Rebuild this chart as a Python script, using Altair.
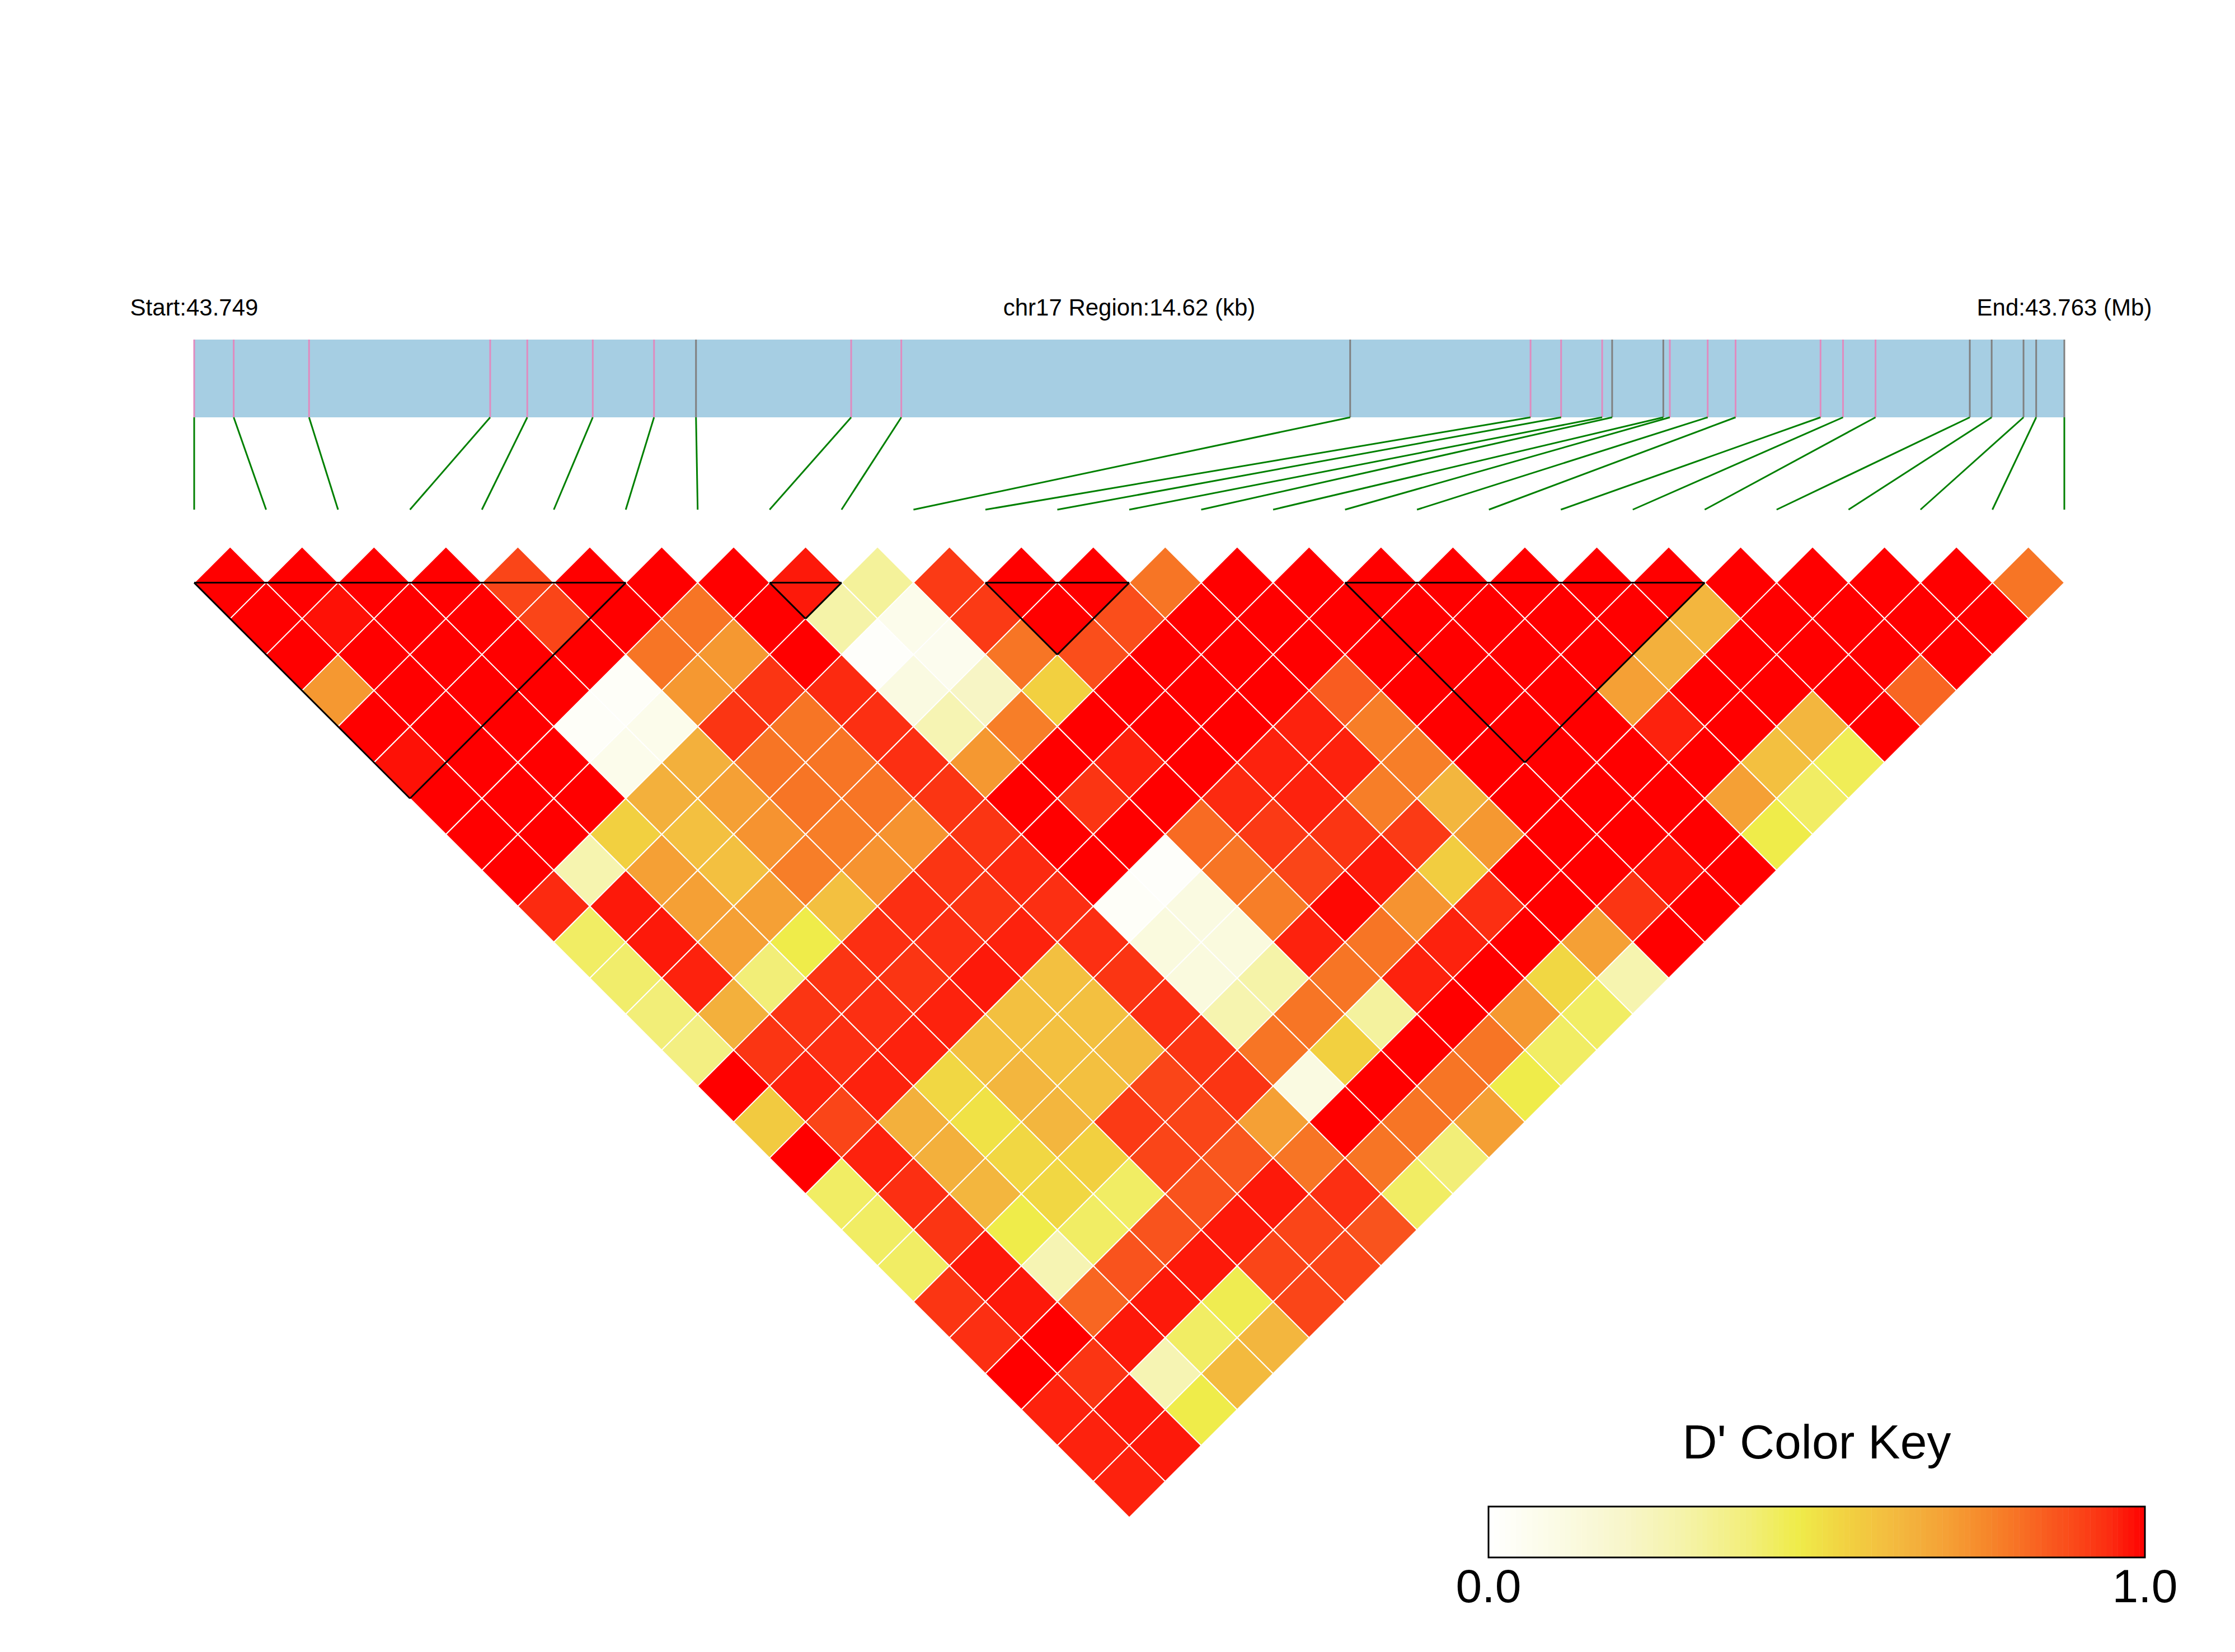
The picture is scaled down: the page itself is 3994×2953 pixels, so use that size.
import altair as alt
import pandas as pd

# ---------------- data ----------------
chromosome = "chr17"
region_start_bp = 43748800
region_length_bp = 14620
snp_offsets_bp = [0, 309, 898, 2314, 2604, 3116, 3595, 3923, 5136, 5528,
                  9037, 10447, 10686, 11007, 11085, 11485, 11536, 11832, 12050,
                  12714, 12890, 13144, 13881, 14052, 14301, 14400, 14620]
ld_blocks = [(0, 6), (8, 9), (11, 13), (16, 21)]

# D' values along each diagonal: ld_lag_k[i] = D'(SNP i, SNP i+k)
ld_lag_01 = [1, 1, 1, 1, 0.9, 1, 1, 1, 0.97, 0.33, 0.92, 1, 1, 0.8, 1, 1, 1, 1, 1, 1, 1, 1, 1, 1, 1, 0.8]
ld_lag_02 = [1, 0.98, 1, 1, 0.9, 1, 0.8, 1, 0.3, 0.08, 0.92, 1, 0.88, 1, 1, 1, 1, 1, 1, 1, 0.63, 1, 1, 1, 1]
ld_lag_03 = [1, 1, 1, 1, 1, 0.8, 0.72, 1, 0.02, 0.07, 0.8, 0.88, 1, 1, 1, 1, 1, 1, 1, 0.65, 1, 1, 1, 1]
ld_lag_04 = [0.72, 1, 1, 1, 0.03, 0.72, 0.93, 0.95, 0.12, 0.22, 0.55, 1, 1, 1, 0.85, 1, 1, 1, 0.7, 1, 1, 1, 0.83]
ld_lag_05 = [1, 1, 1, 0.03, 0.08, 0.93, 0.8, 0.94, 0.27, 0.78, 1, 1, 1, 0.96, 0.78, 1, 1, 1, 0.96, 1, 0.63, 1]
ld_lag_06 = [0.98, 1, 1, 0.08, 0.65, 0.8, 0.8, 0.94, 0.72, 1, 0.96, 1, 0.96, 0.96, 0.78, 1, 1, 1, 1, 0.6, 0.45]
ld_lag_07 = [1, 1, 1, 0.65, 0.7, 0.8, 0.8, 0.93, 1, 0.93, 1, 0.95, 0.96, 0.78, 0.63, 1, 1, 1, 0.7, 0.43]
ld_lag_08 = [1, 1, 0.55, 0.6, 0.73, 0.78, 0.73, 0.93, 1, 1, 0.82, 0.92, 0.93, 0.92, 0.72, 1, 1, 1, 0.47]
ld_lag_09 = [1, 0.28, 0.7, 0.6, 0.78, 0.73, 0.93, 0.95, 1, 0.02, 0.8, 0.9, 0.97, 0.56, 1, 1, 0.98, 1]
ld_lag_10 = [0.95, 0.97, 0.7, 0.7, 0.6, 0.94, 0.93, 0.94, 0.03, 0.12, 0.78, 0.99, 0.73, 0.94, 1, 0.93, 1]
ld_lag_11 = [0.43, 0.97, 0.7, 0.47, 0.94, 0.94, 0.96, 0.94, 0.13, 0.13, 0.96, 0.8, 0.96, 1, 0.7, 1]
ld_lag_12 = [0.42, 0.96, 0.4, 0.93, 0.93, 0.97, 0.6, 0.93, 0.13, 0.3, 0.8, 0.96, 1, 0.53, 0.28]
ld_lag_13 = [0.4, 0.65, 0.93, 0.94, 0.96, 0.6, 0.6, 0.94, 0.28, 0.8, 0.32, 1, 0.72, 0.43]
ld_lag_14 = [0.38, 0.93, 0.94, 0.96, 0.6, 0.6, 0.62, 0.93, 0.8, 0.55, 1, 0.8, 0.43]
ld_lag_15 = [1, 0.96, 0.96, 0.53, 0.63, 0.6, 0.9, 0.93, 0.12, 1, 0.8, 0.47]
ld_lag_16 = [0.57, 0.9, 0.65, 0.5, 0.63, 0.92, 0.9, 0.7, 1, 0.8, 0.7]
ld_lag_17 = [1, 0.96, 0.65, 0.53, 0.55, 0.9, 0.86, 0.8, 0.8, 0.4]
ld_lag_18 = [0.43, 0.94, 0.63, 0.53, 0.43, 0.87, 0.97, 0.94, 0.43]
ld_lag_19 = [0.43, 0.93, 0.47, 0.43, 0.87, 0.97, 0.9, 0.87]
ld_lag_20 = [0.43, 0.97, 0.27, 0.87, 0.97, 0.9, 0.9]
ld_lag_21 = [0.93, 0.97, 0.83, 0.97, 0.46, 0.9]
ld_lag_22 = [0.94, 1, 0.97, 0.43, 0.63]
ld_lag_23 = [1, 0.93, 0.27, 0.62]
ld_lag_24 = [0.96, 0.97, 0.47]
ld_lag_25 = [0.96, 0.97]
ld_lag_26 = [0.96]
ld_lags = [ld_lag_01, ld_lag_02, ld_lag_03, ld_lag_04, ld_lag_05, ld_lag_06, ld_lag_07,
           ld_lag_08, ld_lag_09, ld_lag_10, ld_lag_11, ld_lag_12, ld_lag_13, ld_lag_14,
           ld_lag_15, ld_lag_16, ld_lag_17, ld_lag_18, ld_lag_19, ld_lag_20, ld_lag_21,
           ld_lag_22, ld_lag_23, ld_lag_24, ld_lag_25, ld_lag_26]

key_title = "D' Color Key"
key_tick_values = [0.0, 1.0]
color_stops = [0, 0.1, 0.2, 0.3, 0.4, 0.47, 0.55, 0.6, 0.65, 0.7, 0.75, 0.8, 0.85, 0.9, 0.95, 1.0]
color_hex = ["#ffffff", "#fbfbe6", "#f8f6cc", "#f5f3a8", "#f2ee78", "#efec4a", "#f2d040",
             "#f3c040", "#f3b03c", "#f5a035", "#f68b2c", "#f77525", "#f95c20", "#fa4518",
             "#fc2a10", "#ff0000"]

# ---------------- layout (page pixel frame) ----------------
W, H = 3960, 2900
n_snp = len(snp_offsets_bp)
X0, X1 = 347.0, 3689.0
U = (X1 - X0) / (n_snp - 1)
Y_BASE = 1041.6
GENE_TOP, GENE_BOT, LINK_BOT = 607.0, 746.0, 911.0
TEXT_Y = 564.0
KEY_X0, KEY_X1, KEY_Y0, KEY_Y1 = 2660.0, 3833.0, 2693.0, 2784.0
KEY_TITLE_Y, KEY_LABEL_Y = 2607.0, 2864.0

xs = alt.Scale(domain=[8, 8 + W], nice=False, zero=False)
ys = alt.Scale(domain=[8, 8 + H], nice=False, zero=False, reverse=True)
fill_scale = alt.Scale(domain=color_stops, range=color_hex, interpolate="rgb")

def X(f="x"):
    return alt.X(f"{f}:Q", scale=xs, axis=None)

def Y(f="y"):
    return alt.Y(f"{f}:Q", scale=ys, axis=None)

in_block = set()
for a, b in ld_blocks:
    in_block.update(range(a, b + 1))

snp_px = [X0 + off / region_length_bp * (X1 - X0) for off in snp_offsets_bp]
snps = pd.DataFrame({
    "x": snp_px,
    "y": GENE_TOP,
    "y2": GENE_BOT,
    "grp": ["block" if k in in_block else "other" for k in range(n_snp)],
})
links = pd.DataFrame({
    "x": snp_px,
    "y": GENE_BOT,
    "x2": [X0 + k * U for k in range(n_snp)],
    "y2": LINK_BOT,
})

cells = []
for lag, vals in enumerate(ld_lags, start=1):
    for i, v in enumerate(vals):
        j = i + lag
        cells.append({"i": i, "j": j, "dp": v,
                      "x": X0 + (i + j) / 2 * U,
                      "y": Y_BASE + (lag - 1) * U / 2})
cells = pd.DataFrame(cells)

segs = []
for a, b in ld_blocks:
    left, right = X0 + a * U, X0 + b * U
    ax, ay = X0 + (a + b) / 2 * U, Y_BASE + (b - a) * U / 2
    segs += [{"x": left, "y": Y_BASE, "x2": right, "y2": Y_BASE},
             {"x": left, "y": Y_BASE, "x2": ax, "y2": ay},
             {"x": right, "y": Y_BASE, "x2": ax, "y2": ay}]
segs = pd.DataFrame(segs)

start_mb = region_start_bp / 1e6
end_mb = (region_start_bp + region_length_bp) / 1e6
top_text = pd.DataFrame({
    "x": [X0, (X0 + X1) / 2, X1],
    "y": TEXT_Y,
    "label": [f"Start:{start_mb:.3f}",
              f"{chromosome} Region:{region_length_bp / 1000:.2f} (kb)",
              f"End:{end_mb:.3f} (Mb)"],
})

N_KEY = 120
key = pd.DataFrame({
    "x": [KEY_X0 + k / N_KEY * (KEY_X1 - KEY_X0) for k in range(N_KEY)],
    "x2": [KEY_X0 + (k + 1) / N_KEY * (KEY_X1 - KEY_X0) + 0.5 for k in range(N_KEY)],
    "y": KEY_Y0, "y2": KEY_Y1,
    "dp": [(k + 0.5) / N_KEY for k in range(N_KEY)],
})
key_box = pd.DataFrame({"x": [KEY_X0], "x2": [KEY_X1], "y": [KEY_Y0], "y2": [KEY_Y1]})
key_title_df = pd.DataFrame({"x": [(KEY_X0 + KEY_X1) / 2], "y": [KEY_TITLE_Y], "label": [key_title]})
key_labels_df = pd.DataFrame({
    "x": [KEY_X0 + v * (KEY_X1 - KEY_X0) for v in key_tick_values],
    "y": KEY_LABEL_Y,
    "label": [f"{v:.1f}" for v in key_tick_values],
})

FONT = "Liberation Sans"

gene_rect = alt.Chart(pd.DataFrame({"x": [X0], "x2": [X1], "y": [GENE_TOP], "y2": [GENE_BOT]})).mark_rect(
    color="#a6cee3").encode(x=X(), x2="x2:Q", y=Y(), y2="y2:Q")

gene_ticks = alt.Chart(snps).mark_rule(strokeWidth=3).encode(
    x=X(), y=Y(), y2="y2:Q",
    color=alt.Color("grp:N", scale=alt.Scale(domain=["block", "other"], range=["#e08bbf", "#808080"]), legend=None),
)

link_lines = alt.Chart(links).mark_rule(color="#008000", strokeWidth=3).encode(
    x=X(), y=Y(), x2="x2:Q", y2="y2:Q")

diamonds = alt.Chart(cells).mark_point(
    shape="diamond", filled=True, size=U * U, opacity=1, stroke="white", strokeWidth=2
).encode(x=X(), y=Y(), fill=alt.Fill("dp:Q", scale=fill_scale, legend=None))

block_lines = alt.Chart(segs).mark_rule(color="black", strokeWidth=3).encode(
    x=X(), y=Y(), x2="x2:Q", y2="y2:Q")

texts = alt.Chart(top_text).mark_text(
    font=FONT, fontSize=42, align="center", baseline="alphabetic", color="black"
).encode(x=X(), y=Y(), text="label:N")

key_rects = alt.Chart(key).mark_rect().encode(
    x=X(), x2="x2:Q", y=Y(), y2="y2:Q", fill=alt.Fill("dp:Q", scale=fill_scale, legend=None))

key_border = alt.Chart(key_box).mark_rect(fillOpacity=0, stroke="black", strokeWidth=3).encode(
    x=X(), x2="x2:Q", y=Y(), y2="y2:Q")

key_title_t = alt.Chart(key_title_df).mark_text(
    font=FONT, fontSize=86, align="center", baseline="alphabetic", color="black"
).encode(x=X(), y=Y(), text="label:N")

key_labels_t = alt.Chart(key_labels_df).mark_text(
    font=FONT, fontSize=84, align="center", baseline="alphabetic", color="black"
).encode(x=X(), y=Y(), text="label:N")

chart = alt.layer(
    gene_rect, gene_ticks, link_lines, diamonds, block_lines, texts,
    key_rects, key_border, key_title_t, key_labels_t
).properties(
    width=W, height=H, autosize=alt.AutoSizeParams(type="none"), padding=0, background="white"
).configure_view(stroke="transparent")

chart.save("out.html", embed_options={"renderer": "svg", "actions": False})
